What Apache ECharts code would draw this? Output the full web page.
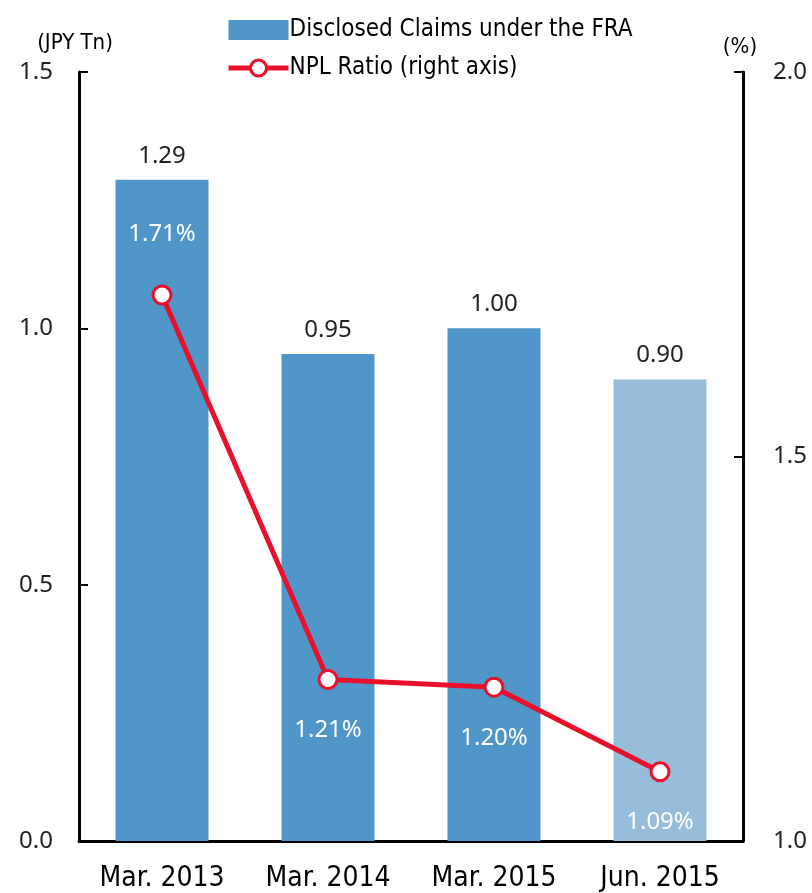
<!DOCTYPE html>
<html>
<head>
<meta charset="utf-8">
<script src="https://cdn.jsdelivr.net/npm/echarts@6/dist/echarts.min.js"></script>
<style>
  html, body { margin: 0; padding: 0; background: #fff; }
  #chart { width: 812px; height: 893px; }
</style>
</head>
<body>
<div id="chart"></div>
<script>
// data
var categories = ['Mar. 2013', 'Mar. 2014', 'Mar. 2015', 'Jun. 2015'];
var claims = [1.29, 0.95, 1.00, 0.90];
var nplRatio = [1.71, 1.21, 1.20, 1.09];
var leftTicks = [0.0, 0.5, 1.0, 1.5];
var rightTicks = [1.0, 1.5, 2.0];

var narrow = '"Liberation Sans Narrow", "DejaVu Sans Condensed", sans-serif';
var plain = '"Noto Sans", "Liberation Sans", sans-serif';
var barBlue = '#5096C9';
var barLight = '#96BEDA';
var red = '#E8102A';

var chart = echarts.init(document.getElementById('chart'));

var barData = claims.map(function (v, i) {
    return {
        value: v,
        itemStyle: { color: i === claims.length - 1 ? barLight : barBlue }
    };
});
var lineData = nplRatio.map(function (v, i) {
    return {
        value: v,
        label: i === 0 ? { position: 'top', distance: 38 } : { position: 'bottom', distance: 28 }
    };
});

var option = {
    animation: false,
    legend: {
        orient: 'vertical',
        left: 221,
        top: 13,
        itemWidth: 60,
        itemHeight: 20,
        itemGap: 14,
        textStyle: { fontFamily: narrow, fontSize: 24, color: '#000', padding: [0, 0, 0, -4] },
        data: [
            { name: 'Disclosed Claims under the FRA', icon: 'rect' },
            {
                name: 'NPL Ratio (right axis)',
                lineStyle: { color: red, width: 5 },
                itemStyle: { color: '#fff', borderColor: red, borderWidth: 3 }
            }
        ]
    },
    grid: { left: 79, right: 69, top: 72, bottom: 49, containLabel: false },
    xAxis: {
        type: 'category',
        data: categories,
        axisLine: { lineStyle: { color: '#000', width: 3 } },
        axisTick: { inside: true, length: 9, lineStyle: { color: '#000', width: 2 } },
        axisLabel: { fontFamily: narrow, fontSize: 28, color: '#000', margin: 24 }
    },
    yAxis: [{
        type: 'value',
        min: leftTicks[0],
        max: leftTicks[leftTicks.length - 1],
        interval: 0.5,
        name: '(JPY Tn)',
        nameGap: 18,
        nameTextStyle: { fontFamily: narrow, fontSize: 22, color: '#000', align: 'center', padding: [0, 0, 0, -8] },
        axisLine: { show: true, lineStyle: { color: '#000', width: 3 } },
        axisTick: { show: true, inside: true, length: 9, lineStyle: { color: '#000', width: 2 } },
        splitLine: { show: false },
        axisLabel: {
            fontFamily: plain, fontSize: 24, color: '#222', margin: 26,
            formatter: function (v) { return v.toFixed(1); }
        }
    }, {
        type: 'value',
        min: rightTicks[0],
        max: rightTicks[rightTicks.length - 1],
        interval: 0.5,
        name: '(%)',
        nameGap: 14,
        nameTextStyle: { fontFamily: narrow, fontSize: 22, color: '#000', align: 'center', padding: [0, 6, 0, 0] },
        axisLine: { show: true, lineStyle: { color: '#000', width: 3 } },
        axisTick: { show: true, inside: true, length: 9, lineStyle: { color: '#000', width: 2 } },
        splitLine: { show: false },
        axisLabel: {
            fontFamily: plain, fontSize: 24, color: '#222', margin: 30,
            formatter: function (v) { return v.toFixed(1); }
        }
    }],
    series: [{
        name: 'Disclosed Claims under the FRA',
        type: 'bar',
        data: barData,
        barWidth: '56%',
        itemStyle: { color: barBlue },
        label: {
            show: true, position: 'top', distance: 12,
            fontFamily: plain, fontSize: 24, color: '#222',
            formatter: function (p) { return p.value.toFixed(2); }
        }
    }, {
        name: 'NPL Ratio (right axis)',
        type: 'line',
        yAxisIndex: 1,
        data: lineData,
        symbol: 'circle',
        symbolSize: 18,
        lineStyle: { color: red, width: 5 },
        itemStyle: { color: '#fff', borderColor: red, borderWidth: 3 },
        label: {
            show: true,
            fontFamily: plain, fontSize: 24, color: '#fff',
            formatter: function (p) { return p.value.toFixed(2) + '%'; }
        },
        z: 5
    }]
};

chart.setOption(option);
</script>
</body>
</html>
